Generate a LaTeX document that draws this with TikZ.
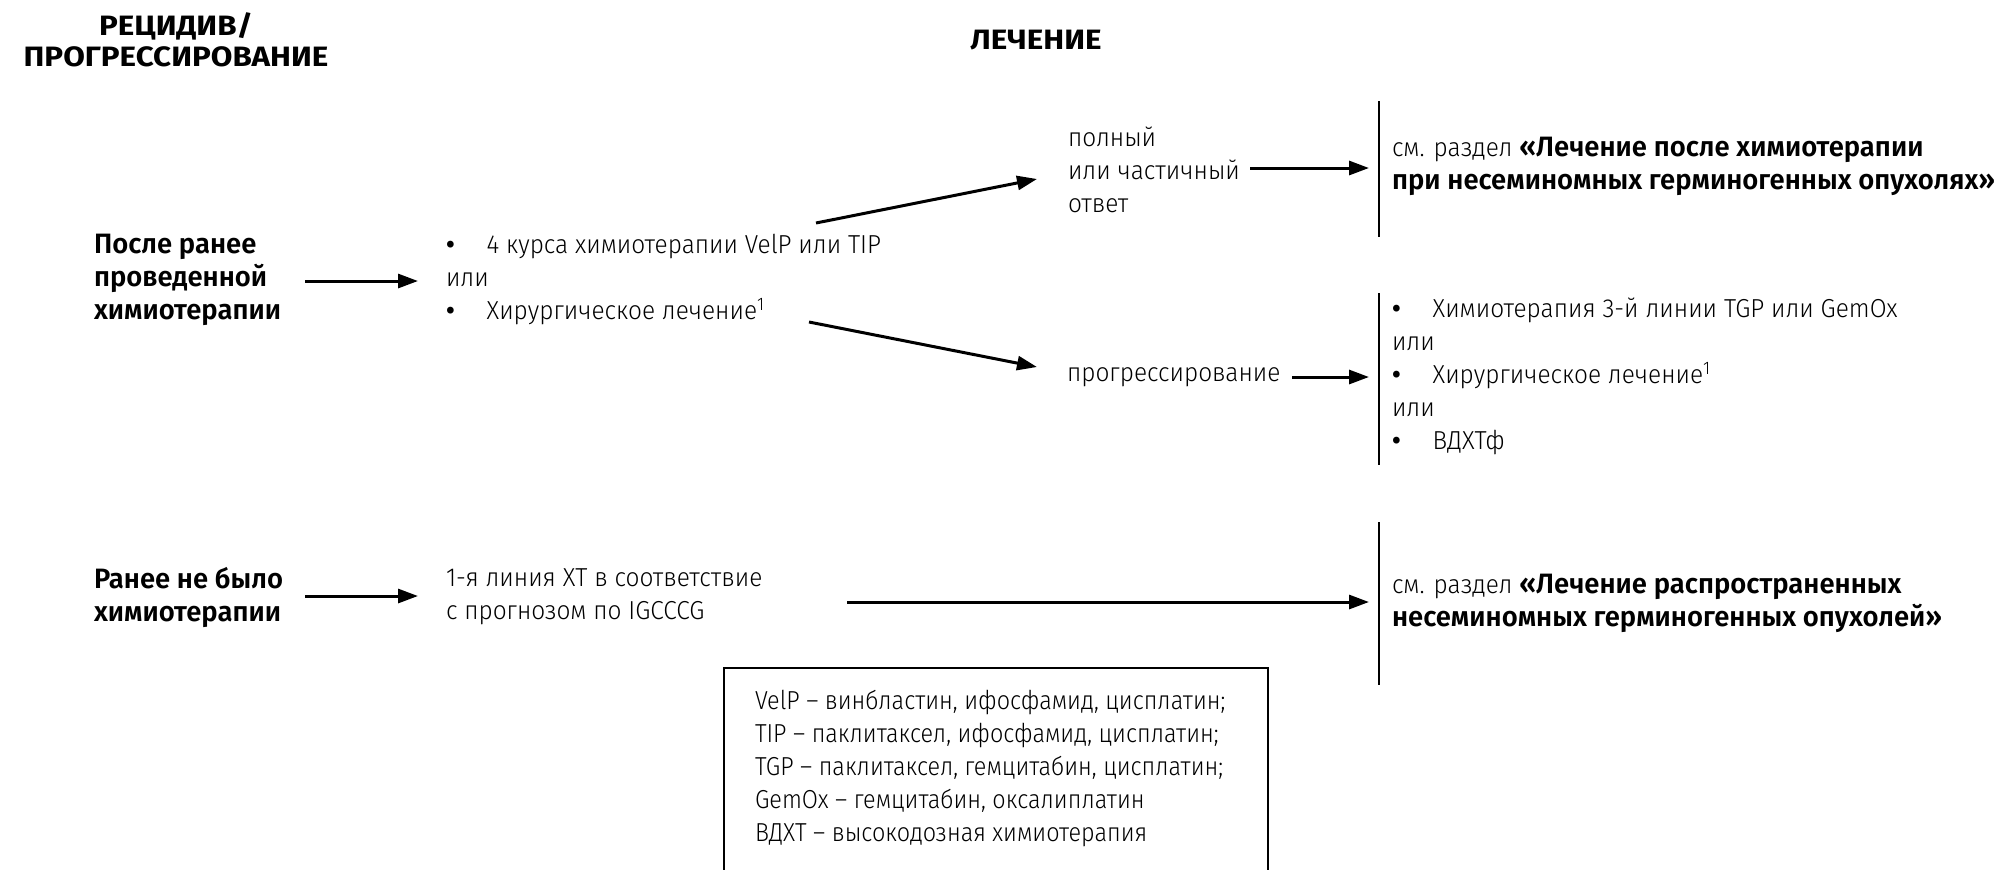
\documentclass[tikz,border=0pt]{standalone}
\usepackage{fontspec}
\usetikzlibrary{arrows.meta}
\IfFontExistsTF{Fira Sans Light}
  {\newfontfamily\lightfam{Fira Sans Light}[FakeStretch=0.94]
   \newfontfamily\legendfam{Fira Sans Light}[FakeStretch=0.9]}
  {\newfontfamily\lightfam{Fira Sans}[FakeStretch=0.94]
   \newfontfamily\legendfam{Fira Sans}[FakeStretch=0.9]}
\IfFontExistsTF{Fira Sans SemiBold}
  {\newfontfamily\boldfam{Fira Sans SemiBold}[FakeStretch=0.98]}
  {\newfontfamily\boldfam{Fira Sans}[FakeStretch=0.98,UprightFont=*,BoldFont=*]}
\IfFontExistsTF{Fira Sans Bold}
  {\newfontfamily\headfam{Fira Sans Bold}[FakeStretch=1.12]}
  {\newfontfamily\headfam{Fira Sans}[FakeStretch=1.12]}
\newcommand\bodyf{\lightfam\fontsize{13}{16.5}\selectfont}
\newcommand\legf{\legendfam\fontsize{13}{16.5}\selectfont}
\newcommand\boldf{\boldfam\fontsize{14}{16.5}\selectfont}
\newcommand\headf{\headfam\fontsize{14}{15.5}\selectfont}
\newcommand\blt{{\boldfam\textbullet}\hspace{16pt}}
\tikzset{
  every node/.style={inner sep=0pt, outer sep=0pt},
  txt/.style={anchor=west, align=left, font=\bodyf},
  legtxt/.style={anchor=north west, align=left, font=\legf},
  bld/.style={anchor=west, align=left, font=\boldf},
  head/.style={align=center, font=\headf},
  arr/.style={line width=1.5pt, -{Triangle[length=10pt,width=7pt]}},
  vbar/.style={line width=1.4pt},
  boxline/.style={line width=1.4pt},
}
\begin{document}
\begin{tikzpicture}[x=0.5pt,y=-0.5pt]
\useasboundingbox (0,0) rectangle (2000,869);
\clip (0,0) rectangle (2000,869);
\fill[white] (0,0) rectangle (2000,869);

% headings
\node[head] (h1) at (176,40) {РЕЦИДИВ/\\ПРОГРЕССИРОВАНИЕ};
\node[head] (h2) at (1036,40) {ЛЕЧЕНИЕ};

% row 1
\node[bld] (a1) at (94,280) {После ранее\\проведенной\\химиотерапии};
\node[txt] (b1) at (446,279) {\blt 4 курса химиотерапии VelP или TIP\\или\\\blt Хирургическое лечение\textsuperscript{1}};
\node[txt] (c1) at (1068,170) {полный\\или частичный\\ответ};
\node[txt] (c2) at (1067,377) {прогрессирование};
\node[txt] (d1) at (1392,166) {см. раздел {\boldf «Лечение после химиотерапии}\\{\boldf при несеминомных герминогенных опухолях»}};
\node[txt] (d2) at (1392,376) {\blt Химиотерапия 3-й линии TGP или GemOx\\или\\\blt Хирургическое лечение\textsuperscript{1}\\или\\\blt ВДХТф};

% row 2
\node[bld] (a2) at (94,597) {Ранее не было\\химиотерапии};
\node[txt] (b2) at (446,597) {1-я линия ХТ в соответствие\\с прогнозом по IGCCCG};
\node[txt] (d3) at (1392,603) {см. раздел {\boldf «Лечение распространенных}\\{\boldf несеминомных герминогенных опухолей»}};

% legend
\node[legtxt] (e1) at (755,690) {VelP – винбластин, ифосфамид, цисплатин;\\TIP – паклитаксел, ифосфамид, цисплатин;\\TGP – паклитаксел, гемцитабин, цисплатин;\\GemOx – гемцитабин, оксалиплатин\\ВДХТ – высокодозная химиотерапия};
\draw[boxline] (724,900) -- (724,668) -- (1268,668) -- (1268,900);

% coordinates
\coordinate (a1s) at (305,281); \coordinate (a1e) at (418,281);
\coordinate (u1s) at (816,223); \coordinate (u1e) at (1037,179);
\coordinate (l1s) at (809,322); \coordinate (l1e) at (1037,367);
\coordinate (c1s) at (1250,168); \coordinate (c1e) at (1369,168);
\coordinate (c2s) at (1292,377); \coordinate (c2e) at (1369,377);
\coordinate (a2s) at (305,596); \coordinate (a2e) at (418,596);
\coordinate (b2s) at (847,602); \coordinate (b2e) at (1369,602);
\coordinate (v1t) at (1379,101); \coordinate (v1b) at (1379,237);
\coordinate (v2t) at (1379,293); \coordinate (v2b) at (1379,465);
\coordinate (v3t) at (1379,522); \coordinate (v3b) at (1379,685);

\draw[arr] (a1s) -- (a1e);
\draw[arr] (u1s) -- (u1e);
\draw[arr] (l1s) -- (l1e);
\draw[arr] (c1s) -- (c1e);
\draw[arr] (c2s) -- (c2e);
\draw[arr] (a2s) -- (a2e);
\draw[arr] (b2s) -- (b2e);
\draw[vbar] (v1t) -- (v1b);
\draw[vbar] (v2t) -- (v2b);
\draw[vbar] (v3t) -- (v3b);
\end{tikzpicture}
\end{document}
